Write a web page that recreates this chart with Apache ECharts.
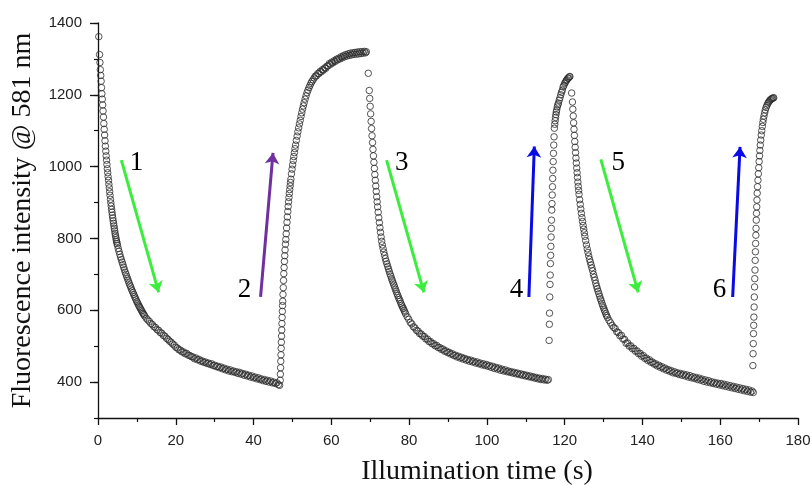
<!DOCTYPE html>
<html><head><meta charset="utf-8">
<script src="https://cdn.jsdelivr.net/npm/echarts@6/dist/echarts.min.js"></script>
<style>html,body{margin:0;padding:0;background:#fff}#c{width:810px;height:485px}</style>
</head><body><div id="c"></div>
<script>
// ---- data: [time (s), fluorescence intensity] ----
const decay1 = [[0.2,1362],[0.4,1312],[0.5,1290],[0.6,1270],[0.7,1254],[0.8,1238],[0.9,1220],[1.0,1203],[1.1,1188],[1.2,1172],[1.3,1155],[1.4,1138],[1.5,1120],[1.6,1104],[1.7,1088],[1.8,1072],[1.9,1057],[2.0,1043],[2.1,1030],[2.2,1018],[2.3,1006],[2.4,994],[2.5,983],[2.6,972],
[2.7,962],[2.8,951],[2.9,941],[3.0,930],[3.1,920],[3.2,909],[3.3,899],[3.4,890],[3.5,881],[3.6,873],[3.7,865],[3.8,857],[3.9,849],[4.0,842],[4.1,835],[4.2,828],[4.3,821],[4.4,814],[4.5,808],[4.6,802],[4.7,796],[4.8,791],[4.9,786],[5.0,781],
[5.2,772],[5.4,764],[5.6,756],[5.8,748],[6.0,741],[6.2,734],[6.4,727],[6.6,720],[6.8,713],[7.0,706],[7.2,700],[7.4,694],[7.6,688],[7.8,682],[8.0,676],[8.2,670],[8.4,665],[8.6,659],[8.8,654],[9.0,649],[9.2,644],[9.4,639],[9.6,634],[9.8,629],[10.0,624],[10.2,620],[10.4,615],[10.6,611],[10.8,607],[11.0,603],[11.2,599],[11.4,595],[11.6,591],[11.8,588],[12.0,584],
[12.4,578],[12.8,573],[13.2,569],[13.6,563],[14.0,560],[14.4,554],[14.8,552],[15.2,546],[15.6,544],[16.0,538],[16.4,536],[16.8,530],[17.2,528],[17.6,522],[18.0,519],[18.4,514],[18.8,511],[19.2,506],[19.6,503],[20.0,497],[20.4,495],[20.8,490],[21.2,489],[21.6,484],[22.0,484],[22.4,479],[22.8,480],[23.2,475],[23.6,474],[24.0,471],[24.4,470],[24.8,465],[25.2,467],[25.6,462],[26.0,463],[26.4,458],[26.8,459],[27.2,455],[27.6,456],[28.0,452],[28.4,453],[28.8,449],[29.2,451],[29.6,446],[30.0,447],[30.4,443],[30.8,444],[31.2,440],[31.6,442],[32.0,437],[32.4,439],[32.8,434],[33.2,436],[33.6,431],[34.0,434],[34.4,429],[34.8,431],[35.2,427],[35.6,429],[36.0,424],[36.4,427],[36.8,422],[37.2,424],[37.6,419],[38.0,422],[38.4,417],[38.8,419],[39.2,414],[39.6,417],[40.0,412],[40.4,414],[40.8,409],[41.2,412],[41.6,407],[42.0,409],[42.4,404],[42.8,407],[43.2,402],[43.6,405],[44.0,400],[44.4,403],[44.8,398],[45.2,400],[45.6,396],[46.0,398],[46.4,393],[46.7,391]];

const rise2 = [[46.85,405],[46.90,422],[46.95,440],[47.00,458],[47.05,476],[47.10,494],[47.15,511],[47.20,528],[47.25,545],[47.30,563],[47.35,580],[47.40,597],[47.45,613],[47.50,625],[47.57,644],[47.64,663],[47.71,683],[47.78,702],[47.86,719],[47.94,736],[48.02,752],[48.10,768],[48.20,784],[48.30,797],[48.40,813],[48.50,829],[48.60,845],[48.70,860],[48.80,875],[48.90,889],[49.00,902],[49.10,914],[49.20,925],[49.30,936],[49.40,946],[49.50,956],[49.60,965],[49.75,980],[49.90,993],[50.05,1005],[50.20,1017],[50.35,1028],[50.50,1039],[50.65,1050],[50.80,1060],[51.00,1073],[51.20,1085],[51.40,1097],[51.60,1108],[51.80,1119],[52.00,1129],[52.20,1140],[52.40,1150],[52.60,1160],[52.80,1169],[53.00,1178],[53.25,1188],[53.50,1197],[53.75,1206],[54.00,1213],[54.25,1220],[54.50,1226],[54.75,1232],[55.00,1237],[55.30,1242],
[55.6,1247],[55.9,1252],[56.2,1253],[56.5,1259],[56.8,1259],[57.1,1265],[57.4,1264],[57.7,1270],[58.0,1269],[58.3,1275],[58.6,1274],[58.9,1280],[59.2,1281],[59.5,1287],[59.8,1285],[60.1,1291],[60.4,1289],[60.7,1295],[61.0,1293],[61.3,1299],[61.6,1297],[61.9,1302],[62.2,1300],[62.5,1306],[62.8,1303],[63.1,1309],[63.4,1306],[63.7,1312],[64.0,1308],[64.3,1314],[64.6,1310],[64.9,1316],[65.2,1311],[65.5,1317],[65.8,1313],[66.1,1318],[66.4,1313],[66.7,1319],[67.0,1314],[67.3,1320],[67.6,1315],[67.9,1320],[68.2,1316],[68.5,1321],[68.8,1317],[69.0,1320]];

const decay3 = [[69.5,1260],[69.75,1212],[69.87,1190],[69.99,1168],[70.11,1147],[70.23,1126],[70.35,1106],[70.47,1086],[70.59,1067],[70.71,1048],[70.83,1030],[70.95,1012],[71.07,995],[71.19,978],[71.31,962],[71.43,946],[71.55,931],[71.67,916],[71.79,902],[71.91,888],[72.05,873],[72.20,858],[72.35,844],[72.50,830],[72.65,817],[72.80,804],[72.95,792],[73.1,782],[73.3,772],[73.5,762],[73.7,753],[73.9,744],[74.1,736],[74.3,729],[74.5,722],[74.7,715],[74.9,708],[75.1,701],[75.3,695],[75.5,688],[75.7,682],[75.9,676],[76.1,670],[76.3,664],[76.5,658],[76.7,652],[76.9,646],[77.1,641],[77.3,635],[77.5,630],[77.7,625],[77.9,619],[78.1,614],[78.3,609],[78.5,605],[78.7,600],[78.9,595],
[79.1,590],[79.5,582],[79.9,575],[80.3,566],[80.7,562],[81.1,554],[81.5,551],[81.9,544],[82.3,542],[82.7,535],[83.1,534],[83.5,528],[83.9,527],[84.3,520],[84.7,520],[85.1,513],[85.5,513],[85.9,507],[86.3,507],[86.7,501],[87.1,502],[87.5,496],[87.9,496],[88.3,491],[88.7,492],[89.1,486],[89.5,487],[89.9,482],[90.3,483],[90.7,478],[91.1,479],[91.5,474],[91.9,475],[92.3,470],[92.7,472],[93.1,467],[93.5,469],[93.9,464],[94.3,466],[94.7,461],[95.1,463],[95.5,458],[95.9,461],[96.3,456],[96.7,458],[97.1,453],[97.5,456],[97.9,451],[98.3,453],[98.7,448],[99.1,451],[99.5,446],[99.9,449],[100.3,444],[100.7,446],[101.1,441],[101.5,444],[101.9,438],[102.3,441],[102.7,436],[103.1,439],[103.5,433],[103.9,436],[104.3,431],[104.7,434],[105.1,429],[105.5,431],[105.9,427],[106.3,429],[106.7,425],[107.1,427],[107.5,423],[107.9,425],[108.3,421],[108.7,423],[109.1,419],[109.5,421],[109.9,417],[110.3,419],[110.7,415],[111.1,417],[111.5,413],[111.9,415],[112.3,411],[112.7,413],[113.1,409],[113.5,411],[113.9,407],[114.3,410],[114.7,406],[115.1,408],[115.5,405],[115.8,407]];

const rise4 = [[116.00,516],[116.06,561],[116.11,592],[116.17,637],[116.23,672],[116.28,698],[116.34,730],[116.40,753],[116.45,778],[116.51,804],[116.57,828],[116.62,851],[116.68,879],[116.74,897],[116.80,921],[116.86,944],[116.92,967],[116.98,990],[117.05,1014],[117.12,1037],[117.19,1060],[117.27,1083],[117.35,1107],[117.45,1118],[117.55,1128],[117.65,1137],[117.75,1145],[117.85,1152],[117.95,1158],[118.1,1166],[118.25,1172],[118.4,1177],[118.6,1185],[118.8,1192],[119.0,1200],[119.2,1207],[119.4,1213],[119.6,1222],[119.8,1226],[120.0,1232],[120.2,1235],[120.4,1240],[120.6,1242],[120.8,1246],[121.0,1247],[121.2,1250],[121.35,1251]];

const decay5 = [[121.8,1205],[122.0,1180],[122.1,1160],[122.2,1141],[122.3,1122],[122.4,1104],[122.5,1087],[122.6,1070],[122.7,1054],[122.8,1039],[122.9,1024],[123.0,1010],[123.1,996],[123.2,983],[123.3,970],[123.4,957],[123.5,945],[123.6,934],[123.7,923],[123.85,908],[124.0,895],[124.15,882],[124.3,870],[124.45,858],[124.6,847],[124.75,836],[124.9,826],[125.05,816],[125.2,806],[125.4,794],[125.6,782],[125.8,771],[126.0,761],[126.2,751],[126.4,742],[126.6,734],[126.8,726],[127.0,718],[127.2,710],[127.4,700],[127.6,692],[127.8,684],[128.0,675],[128.2,667],[128.4,660],[128.6,653],[128.8,646],[129.0,639],[129.2,632],[129.4,626],[129.6,619],[129.8,613],[130.0,607],[130.2,601],[130.4,596],[130.6,590],[130.8,585],[131.0,580],[131.4,572],[131.8,565],[132.2,558],[132.6,552],
[133.0,549],[133.4,540],[133.8,538],[134.2,529],[134.6,530],[135.0,520],[135.4,519],[135.8,508],[136.2,509],[136.6,500],[137.0,501],[137.4,493],[137.8,494],[138.2,486],[138.6,487],[139.0,479],[139.4,480],[139.8,472],[140.2,474],[140.6,466],[141.0,467],[141.4,460],[141.8,462],[142.2,455],[142.6,456],[143.0,450],[143.4,451],[143.8,445],[144.2,447],[144.6,441],[145.0,443],[145.4,437],[145.8,439],[146.2,433],[146.6,435],[147.0,430],[147.4,432],[147.8,426],[148.2,429],[148.6,424],[149.0,426],[149.4,421],[149.8,424],[150.2,419],[150.6,422],[151.0,417],[151.4,420],[151.8,414],[152.2,418],[152.6,412],[153.0,415],[153.4,410],[153.8,413],[154.2,407],[154.6,411],[155.0,405],[155.4,408],[155.8,402],[156.2,406],[156.6,400],[157.0,404],[157.4,398],[157.8,401],[158.2,396],[158.6,399],[159.0,394],[159.4,397],[159.8,392],[160.2,396],[160.6,390],[161.0,394],[161.4,388],[161.8,392],[162.2,386],[162.6,390],[163.0,384],[163.4,388],[163.8,382],[164.2,386],[164.6,380],[165.0,384],[165.4,378],[165.8,382],[166.2,376],[166.6,380],[167.0,374],[167.4,378],[167.8,372],[168.2,375],[168.5,371]];

const rise6 = [[168.40,446],[168.45,479],[168.50,507],[168.55,535],[168.61,558],[168.66,581],[168.72,609],[168.77,637],[168.83,665],[168.88,688],[168.94,712],[168.99,739],[169.05,763],[169.10,786],[169.16,809],[169.21,828],[169.27,851],[169.33,870],[169.39,888],[169.45,907],[169.51,926],[169.60,944],[169.70,962],[169.80,980],[169.90,997],[170.00,1014],[170.10,1030],[170.20,1045],[170.30,1060],[170.42,1074],[170.55,1088],[170.68,1100],[170.82,1112],[170.96,1123],[171.10,1132],[171.25,1141],[171.42,1150],[171.60,1158],[171.80,1165],[172.00,1170],[172.20,1175],[172.40,1179],[172.60,1182],[172.80,1185],[173.00,1187],[173.20,1189],[173.40,1190],[173.60,1191],[173.75,1192]];

// annotation arrows (data units: [time, intensity])
const arrowFrom = [[6.0,1018],[41.8,637],[74.2,1018],[110.8,637],[129.3,1020],[163.2,637]];
const arrowTo   = [[15.6,650],[45.0,1038],[83.8,650],[112.2,1056],[138.9,650],[165.1,1055]];
// annotation numbers
const stepText = ['1','2','3','4','5','6'];
const stepT = [9.9,37.7,78.1,107.6,133.8,159.8];
const stepV = [1009,656,1009,656,1009,657];

const yLabelValues = [400,600,800,1000,1200,1400];
</script>
<script>
const arrowColors = ['#3ded3d','#7030a0','#3ded3d','#0a0ae6','#3ded3d','#0a0ae6'];
const chart = echarts.init(document.getElementById('c'), null, {renderer:'canvas'});
const axisColor = '#111';
const tickFont = {fontFamily:'Liberation Sans, Arial, sans-serif', fontSize:15, color:'#222'};
const titleFont = {fontFamily:'Liberation Serif, Times New Roman, serif', fontSize:28, color:'#111'};
const pointStyle = {color:'rgba(0,0,0,0)', borderColor:'#2a2a2a', borderWidth:1};
const segments = [decay1, rise2, decay3, rise4, decay5, rise6];

const series = segments.map(d => ({
  type:'scatter', data:d, symbol:'circle', symbolSize:6.5,
  itemStyle:pointStyle, silent:true, animation:false, z:2
}));
series.push({
  type:'lines', coordinateSystem:'cartesian2d', silent:true, animation:false, z:5,
  symbol:['none','arrow'], symbolSize:11,
  data: arrowFrom.map((f,i)=>({coords:[f, arrowTo[i]], lineStyle:{color:arrowColors[i], width:3, opacity:1}}))
});
series.push({
  type:'scatter', silent:true, animation:false, symbol:'circle', symbolSize:1,
  itemStyle:{color:'rgba(0,0,0,0)'}, z:6,
  data: stepText.map((s,i)=>[stepT[i], stepV[i], s]),
  label:{show:true, position:'inside', formatter:p=>p.value[2],
    fontFamily:'Liberation Serif, Times New Roman, serif', fontSize:27, color:'#000', opacity:1}
});

chart.setOption({
  animation:false,
  backgroundColor:'#fff',
  grid:{left:98, right:12, top:23, bottom:67, containLabel:false, outerBoundsMode:'none'},
  xAxis:{
    type:'value', min:0, max:180, interval:20,
    name:'Illumination time (s)', nameLocation:'middle', nameGap:54,
    nameTextStyle:Object.assign({verticalAlign:'middle', padding:[0,0,0,58]}, titleFont),
    axisLine:{show:true, onZero:false, lineStyle:{color:axisColor, width:1.3}},
    axisTick:{show:true, inside:false, length:7, lineStyle:{color:axisColor, width:1.3}},
    minorTick:{show:true, splitNumber:2, length:4, lineStyle:{color:axisColor, width:1.2}},
    axisLabel:Object.assign({margin:15}, tickFont),
    splitLine:{show:false}
  },
  yAxis:[{
    type:'value', min:300, max:1400, interval:100,
    name:'Fluorescence intensity @ 581 nm', nameLocation:'middle', nameGap:75,
    nameTextStyle:Object.assign({verticalAlign:'middle'}, titleFont),
    axisLine:{show:true, onZero:false, lineStyle:{color:axisColor, width:1.3}},
    axisTick:{show:true, length:4, lineStyle:{color:axisColor, width:1.2}},
    axisLabel:Object.assign({margin:16, formatter:v=> yLabelValues.indexOf(v)>=0 ? String(v) : ''}, tickFont),
    splitLine:{show:false}
  },{
    type:'value', min:300, max:1400, interval:100, position:'left',
    axisLine:{show:false},
    axisTick:{show:true, length:8, customValues:yLabelValues, lineStyle:{color:axisColor, width:1.3}},
    axisLabel:{show:false},
    splitLine:{show:false}
  }],
  series
});
</script>
</body></html>
